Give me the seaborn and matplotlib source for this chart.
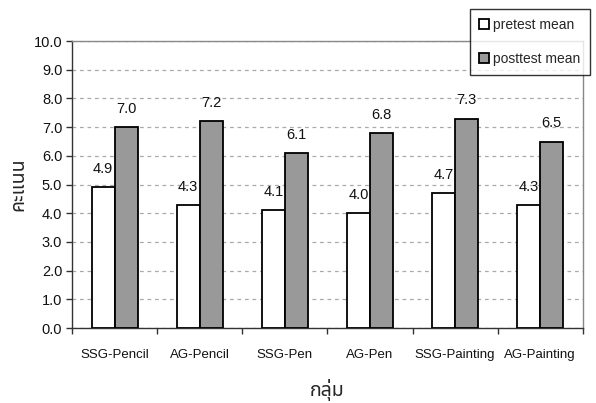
import matplotlib
matplotlib.use("Agg")
import matplotlib.pyplot as plt
import seaborn as sns
import pandas as pd
from matplotlib.ticker import FixedLocator, NullFormatter

groups = ["SSG-Pencil", "AG-Pencil", "SSG-Pen", "AG-Pen", "SSG-Painting", "AG-Painting"]
pretest = [4.9, 4.3, 4.1, 4.0, 4.7, 4.3]
posttest = [7.0, 7.2, 6.1, 6.8, 7.3, 6.5]
series_names = ["pretest mean", "posttest mean"]
y_ticks = [i * 1.0 for i in range(11)]

df = pd.DataFrame({
    "group": groups * 2,
    "series": [series_names[0]] * len(groups) + [series_names[1]] * len(groups),
    "value": pretest + posttest,
})

sns.set_theme(style="white")
plt.rcParams["font.family"] = ["Liberation Sans", "DejaVu Sans"]
thai_family = ["Noto Sans Thai", "Loma", "Garuda", "Norasi", "Tlwg Typo", "DejaVu Sans"]

fig = plt.figure(figsize=(5.96, 4.03), dpi=100)
ax = fig.add_axes([0.1208, 0.186, 0.857, 0.712])

sns.barplot(data=df, x="group", y="value", hue="series", order=groups,
            hue_order=series_names, palette=["white", "#999999"],
            edgecolor="black", linewidth=1.3, width=0.54, ax=ax,
            errorbar=None, legend=True, zorder=3)

# value labels above bars
for cont in ax.containers:
    ax.bar_label(cont, labels=[f"{b.get_height():.1f}" for b in cont],
                 padding=8, fontsize=10.5, color="#111111")

ax.set_ylim(0, 10)
ax.set_xlim(-0.5, len(groups) - 0.5)
ax.yaxis.set_major_locator(FixedLocator(y_ticks))
ax.set_yticklabels([f"{v:.1f}" for v in y_ticks], fontsize=10.5, color="#111111")
ax.grid(axis="y", linestyle=(0, (3, 3)), color="#aaaaaa", linewidth=0.9, zorder=0)
ax.set_axisbelow(True)

ax.tick_params(axis="x", which="major", length=0, labelsize=9.5, labelcolor="#111111", pad=15)
ax.xaxis.set_minor_locator(FixedLocator([i + 0.5 for i in range(-1, len(groups))]))
ax.xaxis.set_minor_formatter(NullFormatter())
ax.tick_params(axis="x", which="minor", length=4, width=1, color="#333333", direction="out", bottom=True)
ax.tick_params(axis="y", length=4, width=1, color="#333333", direction="out", left=True, pad=3)

for side in ["left", "bottom"]:
    ax.spines[side].set_color("#333333")
    ax.spines[side].set_linewidth(1.0)
for side in ["top", "right"]:
    ax.spines[side].set_color("#888888")
    ax.spines[side].set_linewidth(1.0)

ax.set_xlabel("กลุ่ม", fontsize=14, fontweight="bold", family=thai_family, labelpad=13)
ax.set_ylabel("คะแนน", fontsize=14, fontweight="bold", family=thai_family, labelpad=4)

leg = ax.legend(loc="upper left", bbox_to_anchor=(0.780, 1.113), frameon=True,
                fancybox=False, edgecolor="black", fontsize=10, handlelength=0.7,
                handleheight=0.7, handletextpad=0.3, borderpad=0.65, labelspacing=1.45,
                borderaxespad=0)
leg.get_frame().set_linewidth(1.0)
leg.set_zorder(5)

fig.savefig("out.png", dpi=100)
